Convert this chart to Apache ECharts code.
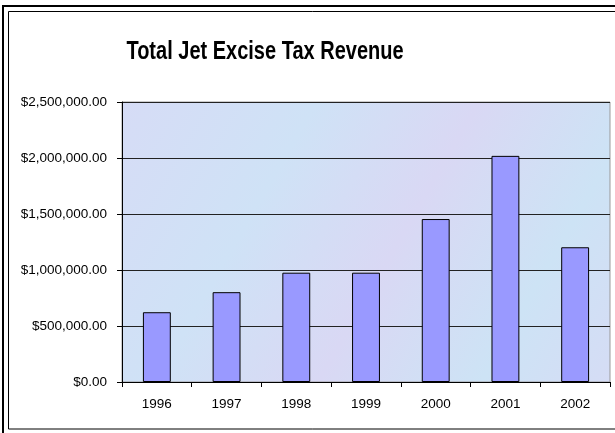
<!DOCTYPE html>
<html><head><meta charset="utf-8">
<script src="https://cdn.jsdelivr.net/npm/echarts@6/dist/echarts.min.js"></script>
<style>html,body{margin:0;padding:0;background:#fff}#c{width:615px;height:433px}</style>
</head><body><div id="c"></div>
<script>
const title = 'Total Jet Excise Tax Revenue';
const years = ['1996','1997','1998','1999','2000','2001','2002'];
const revenue = [623000, 802000, 976000, 976000, 1455000, 2019000, 1203000];
const yTicks = [0, 500000, 1000000, 1500000, 2000000, 2500000];

const chart = echarts.init(document.getElementById('c'), null, {renderer:'canvas'});
function money(v){ return '$' + v.toLocaleString('en-US',{minimumFractionDigits:2, maximumFractionDigits:2}); }
const FONT = 'Liberation Sans, Arial, sans-serif';
chart.setOption({
  animation:false,
  backgroundColor:'#fff',
  grid:{left:122, top:102, right:5, bottom:51, show:true,
    backgroundColor:new echarts.graphic.LinearGradient(0,0,1,1,[
      {offset:0,color:'#d6dcf6'},{offset:0.3,color:'#cfe2f6'},{offset:0.55,color:'#d9d8f4'},{offset:0.8,color:'#cde3f5'},{offset:1,color:'#d5dcf5'}]),
    borderColor:'#999', borderWidth:1},
  xAxis:{type:'category', data:years,
    axisLine:{lineStyle:{color:'#000', width:1}},
    axisTick:{show:true, length:5, lineStyle:{color:'#000'}},
    axisLabel:{fontFamily:FONT, fontSize:13.5, color:'#000', margin:15}},
  yAxis:{type:'value', min:yTicks[0], max:yTicks[yTicks.length-1], interval:500000,
    axisLine:{show:true, lineStyle:{color:'#000'}},
    axisTick:{show:true, length:5, lineStyle:{color:'#000'}},
    splitLine:{show:true, lineStyle:{color:'#222', width:1}},
    axisLabel:{fontFamily:FONT, fontSize:13.5, color:'#000', margin:15, formatter:money}},
  series:[{type:'bar', data:revenue, barCategoryGap:'60%',
    itemStyle:{color:'#9999ff', borderColor:'#000', borderWidth:1}}],
  graphic:[
    {type:'text', x:265, y:52, scaleY:1.3, originX:0, originY:0,
      style:{text:title, x:0, y:0, fill:'#000', align:'center', verticalAlign:'middle',
        font:'bold 20px "Liberation Sans Narrow", "Liberation Sans", Arial, sans-serif'}, silent:true},
    {type:'rect', shape:{x:3,y:6,width:640,height:440}, style:{fill:'none', stroke:'#000', lineWidth:2}, silent:true},
    {type:'rect', shape:{x:8.5,y:11.5,width:640,height:417.5}, style:{fill:'none', stroke:'#000', lineWidth:1}, silent:true}
  ]
});
</script></body></html>
